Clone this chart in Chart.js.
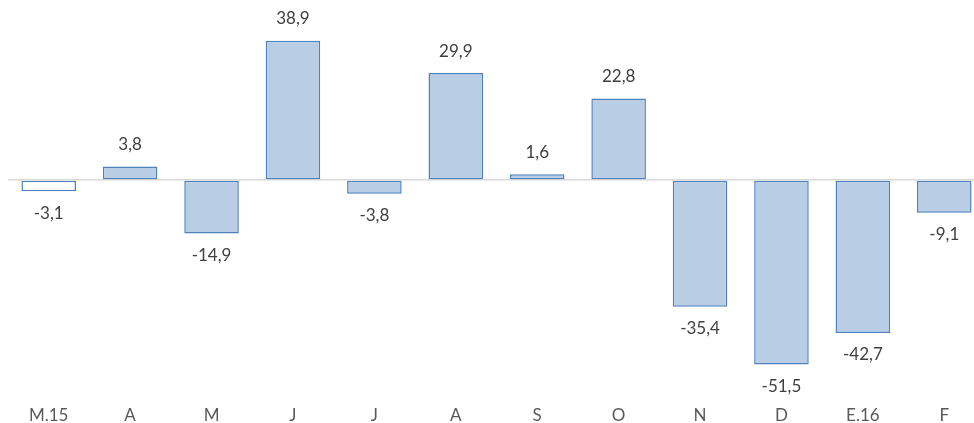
<!DOCTYPE html>
<html>
<head>
<meta charset="utf-8">
<script src="https://cdn.jsdelivr.net/npm/chart.js@4"></script>
<style>
  html, body { margin: 0; padding: 0; background: #fff; overflow: hidden; }
  #wrap { width: 985px; height: 423px; }
</style>
</head>
<body>
<div id="wrap"><canvas id="barChart"></canvas></div>
<script>
// values
const months = ['M.15', 'A', 'M', 'J', 'J', 'A', 'S', 'O', 'N', 'D', 'E.16', 'F'];
const values = [-3.1, 3.8, -14.9, 38.9, -3.8, 29.9, 1.6, 22.8, -35.4, -51.5, -42.7, -9.1];
const fills = ['#ffffff', '#b9cde5', '#b9cde5', '#b9cde5', '#b9cde5', '#b9cde5', '#b9cde5', '#b9cde5', '#b9cde5', '#b9cde5', '#b9cde5', '#b9cde5'];

// value labels above / below each bar
const valueLabels = {
    id: 'valueLabels',
    afterDatasetsDraw(chart) {
        const ctx = chart.ctx;
        const meta = chart.getDatasetMeta(0);
        ctx.save();
        ctx.font = '17px Lato, "Open Sans", sans-serif';
        ctx.fillStyle = '#404040';
        ctx.textAlign = 'center';
        ctx.textBaseline = 'middle';
        meta.data.forEach((bar, i) => {
            const v = values[i];
            const txt = v.toFixed(1).replace('.', ',');
            const y = v >= 0 ? bar.y - 22 : bar.y + 22;
            ctx.fillText(txt, bar.x, y);
        });
        ctx.restore();
    }
};

const ctx = document.getElementById('barChart').getContext('2d');
const barChart = new Chart(ctx, {
    type: 'bar',
    data: {
        labels: months,
        datasets: [{
            data: values,
            backgroundColor: fills,
            borderColor: '#4f81bd',
            borderWidth: 1.5,
            borderSkipped: false,
            barPercentage: 0.67,
            categoryPercentage: 1
        }]
    },
    options: {
        responsive: true,
        maintainAspectRatio: false,
        animation: false,
        layout: { padding: { left: 8, right: 0, top: 19, bottom: 0 } },
        plugins: {
            legend: { display: false },
            tooltip: { enabled: false }
        },
        scales: {
            x: {
                grid: { display: false, drawTicks: false },
                border: { display: false },
                afterFit: scale => { scale.height = 46; },
                ticks: {
                    padding: 28,
                    maxRotation: 0,
                    color: '#595959',
                    font: { family: 'Lato, "Open Sans", sans-serif', size: 17 }
                }
            },
            y: {
                min: -55,
                max: 45,
                border: { display: false },
                grid: {
                    drawTicks: false,
                    lineWidth: 1.5,
                    color: c => c.tick.value === 0 ? '#d9d9d9' : 'rgba(0,0,0,0)'
                },
                ticks: { display: false, stepSize: 5 }
            }
        }
    },
    plugins: [valueLabels]
});
</script>
</body>
</html>
